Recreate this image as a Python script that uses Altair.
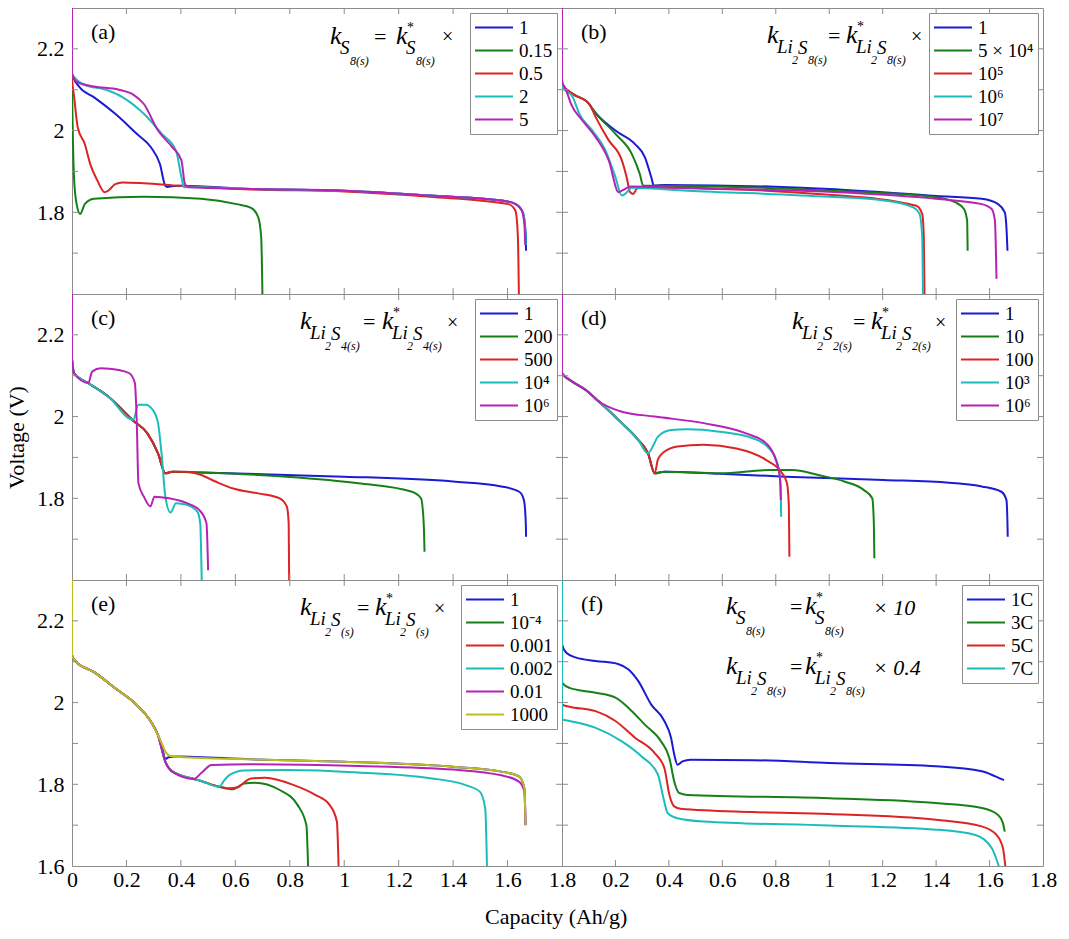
import altair as alt
import pandas as pd

FONT = "Liberation Serif, Times New Roman, Times, serif"
FRAME = "#8c8c8c"
BLUE, GREEN, RED, CYAN, MAGENTA, OLIVE = "#1b1bd4", "#168016", "#dc2424", "#1dbcbc", "#b622b6", "#bdbd1f"

# ---------------- axis values ----------------
X_TICKS = [0.2, 0.4, 0.6, 0.8, 1.0, 1.2, 1.4, 1.6]
Y_TICKS = [1.7, 1.8, 1.9, 2.0, 2.1, 2.2]
X_LABELS_LEFT = [0, 0.2, 0.4, 0.6, 0.8, 1.0, 1.2, 1.4, 1.6, 1.8]
X_LABELS_RIGHT = [0.2, 0.4, 0.6, 0.8, 1.0, 1.2, 1.4, 1.6, 1.8]
Y_LABELS = [1.8, 2.0, 2.2]
Y_LABELS_BOTTOM = [1.6, 1.8, 2.0, 2.2]

# ---------------- (a) ----------------
A_NAMES = ["1", "0.15", "0.5", "2", "5"]
A_1 = [[0, 2.45], [0, 2.139], [0.028, 2.106], [0.08, 2.082], [0.159, 2.041], [0.238, 1.992], [0.29, 1.959],
       [0.323, 1.918], [0.343, 1.865], [0.352, 1.862], [0.365, 1.864], [0.395, 1.865], [0.658, 1.857],
       [1.0, 1.853], [1.314, 1.841], [1.577, 1.829], [1.63, 1.82], [1.656, 1.8], [1.665, 1.76],
       [1.667, 1.739], [1.668, 1.706]]
A_015 = [[0, 2.45], [0, 2.13], [0.008, 1.878], [0.017, 1.82], [0.03, 1.796], [0.047, 1.82], [0.08, 1.833],
         [0.264, 1.838], [0.474, 1.833], [0.605, 1.82], [0.658, 1.811], [0.684, 1.788], [0.695, 1.739],
         [0.7, 1.58]]
A_05 = [[0, 2.45], [0, 2.13], [0.008, 2.082], [0.021, 2.008], [0.047, 1.967], [0.067, 1.918], [0.093, 1.878],
        [0.12, 1.849], [0.133, 1.853], [0.159, 1.869], [0.185, 1.873], [0.264, 1.871], [0.395, 1.865],
        [0.658, 1.856], [1.0, 1.851], [1.314, 1.838], [1.603, 1.82], [1.629, 1.804], [1.638, 1.739],
        [1.642, 1.58]]
A_2 = [[0, 2.45], [0, 2.139], [0.04, 2.114], [0.133, 2.098], [0.185, 2.082], [0.264, 2.041], [0.33, 1.992],
       [0.382, 1.951], [0.402, 1.886], [0.411, 1.861], [0.43, 1.862], [0.658, 1.857], [1.0, 1.853],
       [1.314, 1.841], [1.577, 1.829], [1.63, 1.82], [1.656, 1.8], [1.665, 1.76], [1.667, 1.72]]
A_5 = [[0, 2.45], [0, 2.139], [0.021, 2.118], [0.08, 2.108], [0.172, 2.1], [0.225, 2.088], [0.264, 2.065],
       [0.316, 2.0], [0.369, 1.959], [0.402, 1.927], [0.415, 1.869], [0.428, 1.861], [0.658, 1.857],
       [1.0, 1.853], [1.314, 1.841], [1.577, 1.829], [1.63, 1.82], [1.652, 1.805], [1.662, 1.77],
       [1.665, 1.72]]

# ---------------- (b) ----------------
B_NAMES = ["1", "5 × 10⁴", "10⁵", "10⁶", "10⁷"]
B_1 = [[0, 2.45], [0, 2.114], [0.04, 2.09], [0.102, 2.065], [0.114, 2.053], [0.2, 2.0], [0.273, 1.967],
       [0.31, 1.935], [0.334, 1.886], [0.344, 1.865], [0.383, 1.867], [1.0, 1.857], [1.4, 1.84],
       [1.571, 1.833], [1.632, 1.82], [1.657, 1.8], [1.665, 1.739], [1.667, 1.706]]
B_5E4 = [[0, 2.45], [0, 2.114], [0.04, 2.09], [0.102, 2.065], [0.114, 2.053], [0.2, 1.992], [0.261, 1.943],
         [0.291, 1.894], [0.304, 1.865], [0.346, 1.865], [1.0, 1.853], [1.4, 1.837], [1.473, 1.824],
         [1.504, 1.808], [1.516, 1.78], [1.518, 1.706]]
B_1E5 = [[0, 2.45], [0, 2.114], [0.04, 2.09], [0.102, 2.065], [0.126, 2.033], [0.175, 1.976], [0.224, 1.927],
         [0.242, 1.886], [0.255, 1.849], [0.267, 1.845], [0.279, 1.857], [0.298, 1.861], [1.0, 1.843],
         [1.326, 1.816], [1.348, 1.796], [1.354, 1.739], [1.357, 1.58]]
B_1E6 = [[0, 2.45], [0, 2.114], [0.004, 2.106], [0.04, 2.082], [0.065, 2.041], [0.114, 2.0], [0.163, 1.951],
         [0.2, 1.886], [0.224, 1.841], [0.236, 1.845], [0.261, 1.86], [0.469, 1.853], [1.0, 1.838],
         [1.204, 1.829], [1.314, 1.812], [1.338, 1.796], [1.348, 1.739], [1.351, 1.58]]
B_1E7 = [[0, 2.45], [0, 2.122], [0.016, 2.098], [0.034, 2.065], [0.077, 2.024], [0.126, 1.984], [0.175, 1.927],
         [0.212, 1.849], [0.224, 1.853], [0.236, 1.857], [0.255, 1.863], [0.469, 1.859], [1.0, 1.85],
         [1.4, 1.833], [1.571, 1.82], [1.608, 1.808], [1.62, 1.78], [1.626, 1.637]]

# ---------------- (c) ----------------
C_NAMES = ["1", "200", "500", "10⁴", "10⁶"]
C_1 = [[0, 2.45], [0, 2.14], [0.008, 2.106], [0.06, 2.082], [0.133, 2.049], [0.225, 1.99], [0.277, 1.959],
       [0.316, 1.91], [0.343, 1.861], [0.369, 1.865], [0.474, 1.863], [0.789, 1.857], [1.0, 1.853],
       [1.4, 1.841], [1.577, 1.829], [1.643, 1.816], [1.66, 1.796], [1.667, 1.739], [1.668, 1.706]]
C_200 = [[0, 2.45], [0, 2.14], [0.008, 2.106], [0.06, 2.082], [0.133, 2.049], [0.225, 1.99], [0.277, 1.959],
         [0.316, 1.91], [0.343, 1.861], [0.369, 1.865], [0.474, 1.863], [0.789, 1.853], [1.052, 1.837],
         [1.249, 1.816], [1.282, 1.8], [1.292, 1.739], [1.295, 1.669]]
C_500 = [[0, 2.45], [0, 2.14], [0.008, 2.106], [0.06, 2.082], [0.133, 2.049], [0.225, 1.99], [0.277, 1.959],
         [0.316, 1.91], [0.343, 1.861], [0.369, 1.865], [0.422, 1.865], [0.474, 1.857], [0.527, 1.841],
         [0.592, 1.824], [0.684, 1.812], [0.763, 1.8], [0.789, 1.78], [0.796, 1.739], [0.798, 1.58]]
C_1E4 = [[0, 2.45], [0, 2.14], [0.008, 2.106], [0.06, 2.082], [0.133, 2.049], [0.225, 1.992], [0.244, 2.029],
         [0.27, 2.029], [0.297, 2.016], [0.316, 1.984], [0.33, 1.902], [0.343, 1.804], [0.362, 1.765],
         [0.382, 1.788], [0.422, 1.784], [0.461, 1.767], [0.471, 1.739], [0.477, 1.58]]
C_1E6 = [[0, 2.45], [0, 2.14], [0.008, 2.106], [0.06, 2.082], [0.074, 2.11], [0.106, 2.118], [0.172, 2.114],
         [0.211, 2.106], [0.231, 2.082], [0.238, 1.984], [0.244, 1.837], [0.264, 1.804], [0.288, 1.78],
         [0.303, 1.804], [0.356, 1.8], [0.422, 1.788], [0.468, 1.771], [0.494, 1.739], [0.5, 1.624]]

# ---------------- (d) ----------------
D_NAMES = ["1", "10", "100", "10³", "10⁶"]
D_1 = [[0, 2.45], [0, 2.106], [0.028, 2.09], [0.089, 2.065], [0.138, 2.037], [0.224, 1.984], [0.285, 1.943],
       [0.322, 1.91], [0.347, 1.861], [0.383, 1.865], [0.591, 1.86], [0.836, 1.853], [1.204, 1.845],
       [1.449, 1.838], [1.571, 1.829], [1.644, 1.816], [1.663, 1.796], [1.667, 1.739], [1.668, 1.706]]
D_10 = [[0, 2.45], [0, 2.106], [0.028, 2.09], [0.089, 2.065], [0.138, 2.037], [0.224, 1.984], [0.285, 1.943],
        [0.322, 1.91], [0.347, 1.861], [0.383, 1.865], [0.591, 1.861], [0.775, 1.869], [0.861, 1.869],
        [0.959, 1.857], [1.057, 1.841], [1.13, 1.82], [1.161, 1.8], [1.167, 1.739], [1.169, 1.653]]
D_100 = [[0, 2.45], [0, 2.106], [0.028, 2.09], [0.089, 2.065], [0.138, 2.037], [0.224, 1.984], [0.285, 1.943],
         [0.322, 1.91], [0.347, 1.861], [0.359, 1.895], [0.383, 1.914], [0.432, 1.927], [0.53, 1.931],
         [0.653, 1.922], [0.763, 1.894], [0.824, 1.861], [0.842, 1.837], [0.849, 1.78], [0.851, 1.657]]
D_1E3 = [[0, 2.45], [0, 2.106], [0.028, 2.09], [0.089, 2.065], [0.138, 2.037], [0.224, 1.984], [0.285, 1.943],
         [0.322, 1.91], [0.342, 1.93], [0.359, 1.951], [0.408, 1.967], [0.469, 1.969], [0.591, 1.963],
         [0.714, 1.947], [0.775, 1.922], [0.806, 1.886], [0.818, 1.837], [0.82, 1.755]]
D_1E6 = [[0, 2.45], [0, 2.106], [0.028, 2.09], [0.089, 2.065], [0.138, 2.037], [0.224, 2.012], [0.347, 2.0],
         [0.53, 1.984], [0.689, 1.959], [0.763, 1.935], [0.8, 1.894], [0.815, 1.853], [0.819, 1.796]]

# ---------------- (e) ----------------
E_NAMES = ["1", "10⁻⁴", "0.001", "0.002", "0.01", "1000"]
E_1 = [[0, 2.45], [0, 2.116], [0.014, 2.1], [0.08, 2.075], [0.159, 2.035], [0.238, 1.994], [0.29, 1.953],
       [0.316, 1.92], [0.33, 1.895], [0.343, 1.862], [0.355, 1.866], [0.38, 1.868], [0.658, 1.861],
       [1.0, 1.855], [1.4, 1.843], [1.577, 1.831], [1.643, 1.819], [1.662, 1.79], [1.666, 1.7]]
E_1EM4 = [[0, 2.45], [0, 2.116], [0.014, 2.1], [0.08, 2.075], [0.159, 2.035], [0.238, 1.994], [0.29, 1.953],
          [0.316, 1.92], [0.343, 1.855], [0.369, 1.831], [0.448, 1.813], [0.474, 1.808], [0.54, 1.794],
          [0.592, 1.788], [0.632, 1.802], [0.671, 1.804], [0.763, 1.786], [0.829, 1.749], [0.861, 1.7],
          [0.868, 1.58]]
E_0001 = [[0, 2.45], [0, 2.116], [0.014, 2.1], [0.08, 2.075], [0.159, 2.035], [0.238, 1.994], [0.29, 1.953],
          [0.316, 1.92], [0.343, 1.855], [0.369, 1.831], [0.448, 1.813], [0.474, 1.808], [0.54, 1.794],
          [0.579, 1.79], [0.605, 1.792], [0.658, 1.814], [0.71, 1.816], [0.815, 1.798], [0.894, 1.774],
          [0.947, 1.749], [0.973, 1.709], [0.98, 1.58]]
E_0002 = [[0, 2.45], [0, 2.116], [0.014, 2.1], [0.08, 2.075], [0.159, 2.035], [0.238, 1.994], [0.29, 1.953],
          [0.316, 1.92], [0.343, 1.855], [0.369, 1.831], [0.448, 1.813], [0.474, 1.808], [0.54, 1.794],
          [0.56, 1.81], [0.579, 1.823], [0.632, 1.834], [0.789, 1.835], [1.052, 1.829], [1.315, 1.815],
          [1.446, 1.798], [1.498, 1.782], [1.518, 1.741], [1.525, 1.58]]
E_001 = [[0, 2.45], [0, 2.116], [0.014, 2.1], [0.08, 2.075], [0.159, 2.035], [0.238, 1.994], [0.29, 1.953],
         [0.316, 1.92], [0.343, 1.855], [0.369, 1.831], [0.448, 1.813], [0.474, 1.827], [0.513, 1.847],
         [0.658, 1.849], [1.052, 1.845], [1.4, 1.836], [1.577, 1.822], [1.643, 1.806], [1.662, 1.782],
         [1.666, 1.7]]
E_1000 = [[0, 2.45], [0, 2.116], [0.014, 2.1], [0.08, 2.075], [0.159, 2.035], [0.238, 1.994], [0.29, 1.953],
          [0.316, 1.92], [0.33, 1.9], [0.343, 1.88], [0.362, 1.869], [0.395, 1.867], [0.658, 1.861],
          [1.0, 1.855], [1.4, 1.843], [1.577, 1.831], [1.643, 1.819], [1.662, 1.79], [1.666, 1.7]]

# ---------------- (f) ----------------
F_NAMES = ["1C", "3C", "5C", "7C"]
F_1C = [[0, 2.45], [0, 2.143], [0.016, 2.122], [0.053, 2.11], [0.126, 2.102], [0.212, 2.094], [0.249, 2.081],
        [0.285, 2.053], [0.334, 1.995], [0.383, 1.955], [0.408, 1.914], [0.42, 1.873], [0.432, 1.848],
        [0.451, 1.856], [0.481, 1.86], [0.714, 1.859], [1.0, 1.852], [1.4, 1.844], [1.571, 1.832],
        [1.62, 1.82], [1.654, 1.81]]
F_3C = [[0, 2.45], [0, 2.049], [0.028, 2.036], [0.126, 2.024], [0.2, 2.012], [0.249, 1.987], [0.31, 1.946],
        [0.371, 1.905], [0.402, 1.864], [0.42, 1.807], [0.438, 1.779], [0.469, 1.774], [1.0, 1.766],
        [1.4, 1.754], [1.571, 1.742], [1.632, 1.725], [1.65, 1.705], [1.657, 1.684]]
F_5C = [[0, 2.45], [0, 1.995], [0.028, 1.99], [0.126, 1.979], [0.2, 1.955], [0.273, 1.914], [0.346, 1.877],
        [0.383, 1.84], [0.402, 1.774], [0.42, 1.746], [0.444, 1.74], [0.714, 1.732], [1.0, 1.727],
        [1.4, 1.713], [1.571, 1.697], [1.626, 1.676], [1.65, 1.644], [1.662, 1.58]]
F_7C = [[0, 2.45], [0, 1.959], [0.028, 1.955], [0.126, 1.938], [0.224, 1.905], [0.298, 1.868], [0.359, 1.824],
        [0.377, 1.774], [0.396, 1.729], [0.432, 1.717], [0.53, 1.709], [1.0, 1.699], [1.4, 1.689],
        [1.547, 1.676], [1.608, 1.644], [1.644, 1.58]]

# ---------------- formula layout (text, x, y, size, italic) ----------------
I, N = True, False


def k_s(x, y0, tail, star=False):
    """k with subscript S and second-level subscript tail."""
    out = [("k", x, y0, 26, I), ("S", x + 10, y0 + 10, 19, I), (tail, x + 20, y0 + 21, 12, I)]
    if star:
        out.append(("*", x + 11, y0 - 12, 14, N))
    return out


def k_li(x, y0, tail, star=False):
    """k with subscript Li_2 S and second-level subscript tail."""
    out = [("k", x, y0, 26, I), ("Li", x + 10, y0 + 10, 19, I), ("2", x + 25, y0 + 21, 12, I),
           ("S", x + 31, y0 + 11, 19, I), (tail, x + 41, y0 + 21, 12, I)]
    if star:
        out.append(("*", x + 11, y0 - 12, 14, N))
    return out


FORM_A = k_s(258, 36, "8(s)") + [("=", 302, 36, 22, N)] + k_s(324, 36, "8(s)", True) + [("×", 370, 35, 20, N)]
FORM_B = k_li(205, 35, "8(s)") + [("=", 266, 35, 22, N)] + k_li(284, 35, "8(s)", True) + [("×", 349, 35, 20, N)]
FORM_C = k_li(228, 35, "4(s)") + [("=", 291, 35, 22, N)] + k_li(310, 35, "4(s)", True) + [("×", 375, 35, 20, N)]
FORM_D = k_li(230, 35, "2(s)") + [("=", 291, 35, 22, N)] + k_li(309, 35, "2(s)", True) + [("×", 373, 35, 20, N)]
FORM_E = k_li(228, 35, "(s)") + [("=", 285, 35, 22, N)] + k_li(303, 35, "(s)", True) + [("×", 362, 35, 20, N)]
FORM_F = (k_s(164, 34, "8(s)") + [("=", 228, 34, 22, N)] + k_s(243, 34, "8(s)", True) +
          [("× 10", 311, 35, 22, I)] +
          k_li(164, 94, "8(s)") + [("=", 228, 94, 22, N)] + k_li(243, 94, "8(s)", True) +
          [("× 0.4", 311, 95, 22, I)])

PANELS = [
    dict(tag="(a)", col=0, row=0, names=A_NAMES, curves=[A_1, A_015, A_05, A_2, A_5],
         colors=[BLUE, GREEN, RED, CYAN, MAGENTA], formula=FORM_A),
    dict(tag="(b)", col=1, row=0, names=B_NAMES, curves=[B_1, B_5E4, B_1E5, B_1E6, B_1E7],
         colors=[BLUE, GREEN, RED, CYAN, MAGENTA], formula=FORM_B),
    dict(tag="(c)", col=0, row=1, names=C_NAMES, curves=[C_1, C_200, C_500, C_1E4, C_1E6],
         colors=[BLUE, GREEN, RED, CYAN, MAGENTA], formula=FORM_C),
    dict(tag="(d)", col=1, row=1, names=D_NAMES, curves=[D_1, D_10, D_100, D_1E3, D_1E6],
         colors=[BLUE, GREEN, RED, CYAN, MAGENTA], formula=FORM_D),
    dict(tag="(e)", col=0, row=2, names=E_NAMES, curves=[E_1, E_1EM4, E_0001, E_0002, E_001, E_1000],
         colors=[BLUE, GREEN, RED, CYAN, MAGENTA, OLIVE], formula=FORM_E),
    dict(tag="(f)", col=1, row=2, names=F_NAMES, curves=[F_1C, F_3C, F_5C, F_7C],
         colors=[BLUE, GREEN, RED, CYAN], formula=FORM_F),
]

WIDTHS = [490, 481]
HEIGHT = 286
TL = 6  # tick length


def x_axis(p):
    if p["row"] != 2:
        return None
    vals = X_LABELS_LEFT if p["col"] == 0 else X_LABELS_RIGHT
    return alt.Axis(values=vals, format="~g", title=None, ticks=False, tickSize=0, domain=False, grid=False,
                    labelFont=FONT, labelFontSize=22, labelColor="black", labelPadding=3,
                    labelFlush=False, labelOverlap=False)


def y_axis(p):
    if p["col"] != 0:
        return None
    vals = Y_LABELS_BOTTOM if p["row"] == 2 else Y_LABELS
    title = "Voltage (V)" if p["row"] == 1 else None
    return alt.Axis(values=vals, format="~g", title=title, ticks=False, tickSize=0, domain=False, grid=False,
                    labelFont=FONT, labelFontSize=22, labelColor="black", labelPadding=8,
                    labelFlush=False, labelOverlap=False,
                    titleFont=FONT, titleFontSize=22, titleFontWeight="normal", titleColor="black",
                    titlePadding=8)


dummy = pd.DataFrame({"d": [0]})


def panel(p):
    W = WIDTHS[p["col"]]
    H = HEIGHT
    xs = alt.Scale(domain=[0, 1.8], nice=False, zero=False)
    ys = alt.Scale(domain=[1.6, 2.3], nice=False, zero=False)
    xa = x_axis(p)
    ya = y_axis(p)
    rows = []
    for name, pts in zip(p["names"], p["curves"]):
        for i, (x, y) in enumerate(pts):
            rows.append({"series": name, "i": i, "cap": x, "volt": y})
    df = pd.DataFrame(rows)
    legend = alt.Legend(title=None, orient="top-right", offset=5, padding=4, strokeColor=FRAME,
                        fillColor="white", symbolType="M-1,0H3", symbolSize=361, symbolStrokeWidth=2,
                        labelOffset=24, labelFont=FONT, labelFontSize=19, labelColor="black",
                        rowPadding=2, labelLimit=300, cornerRadius=0)
    lines = alt.Chart(df).mark_line(strokeWidth=2, clip=True, interpolate="monotone").encode(
        x=alt.X("cap:Q", scale=xs, axis=xa),
        y=alt.Y("volt:Q", scale=ys, axis=ya),
        color=alt.Color("series:N", scale=alt.Scale(domain=p["names"], range=p["colors"]),
                        legend=legend, sort=p["names"]),
        order="i:Q",
    )
    ydf = pd.DataFrame({"v": Y_TICKS})
    xdf = pd.DataFrame({"v": X_TICKS})
    layers = [lines]
    for x0, x1 in [(0, TL), (W - TL, W)]:
        layers.append(alt.Chart(ydf).mark_rule(color=FRAME, strokeWidth=1).encode(
            y=alt.Y("v:Q", scale=ys, axis=ya), x=alt.value(x0), x2=alt.value(x1)))
    for y0, y1 in [(0, TL), (H - TL, H)]:
        layers.append(alt.Chart(xdf).mark_rule(color=FRAME, strokeWidth=1).encode(
            x=alt.X("v:Q", scale=xs, axis=xa), y=alt.value(y0), y2=alt.value(y1)))
    layers.append(alt.Chart(dummy).mark_text(text=p["tag"], font=FONT, fontSize=22, align="left",
                                             baseline="alphabetic", color="black").encode(
        x=alt.value(19), y=alt.value(31)))
    for (t, x, y, s, it) in p["formula"]:
        layers.append(alt.Chart(dummy).mark_text(text=t, font=FONT, fontSize=s, align="left",
                                                 baseline="alphabetic", color="black",
                                                 fontStyle="italic" if it else "normal").encode(
            x=alt.value(x), y=alt.value(y)))
    return alt.layer(*layers).properties(width=W, height=H)


chart = alt.concat(*[panel(p) for p in PANELS], columns=2, spacing=0).properties(
    bounds="flush",
    padding={"left": 5, "top": 7, "right": 5, "bottom": 5},
    title=alt.TitleParams("Capacity (Ah/g)", orient="bottom", anchor="middle", font=FONT, fontSize=22,
                          fontWeight="normal", color="black", offset=16, dx=25),
).resolve_scale(color="independent").configure_view(stroke=FRAME, strokeWidth=1)

chart.save("out.html", embed_options={"renderer": "svg", "actions": False})
